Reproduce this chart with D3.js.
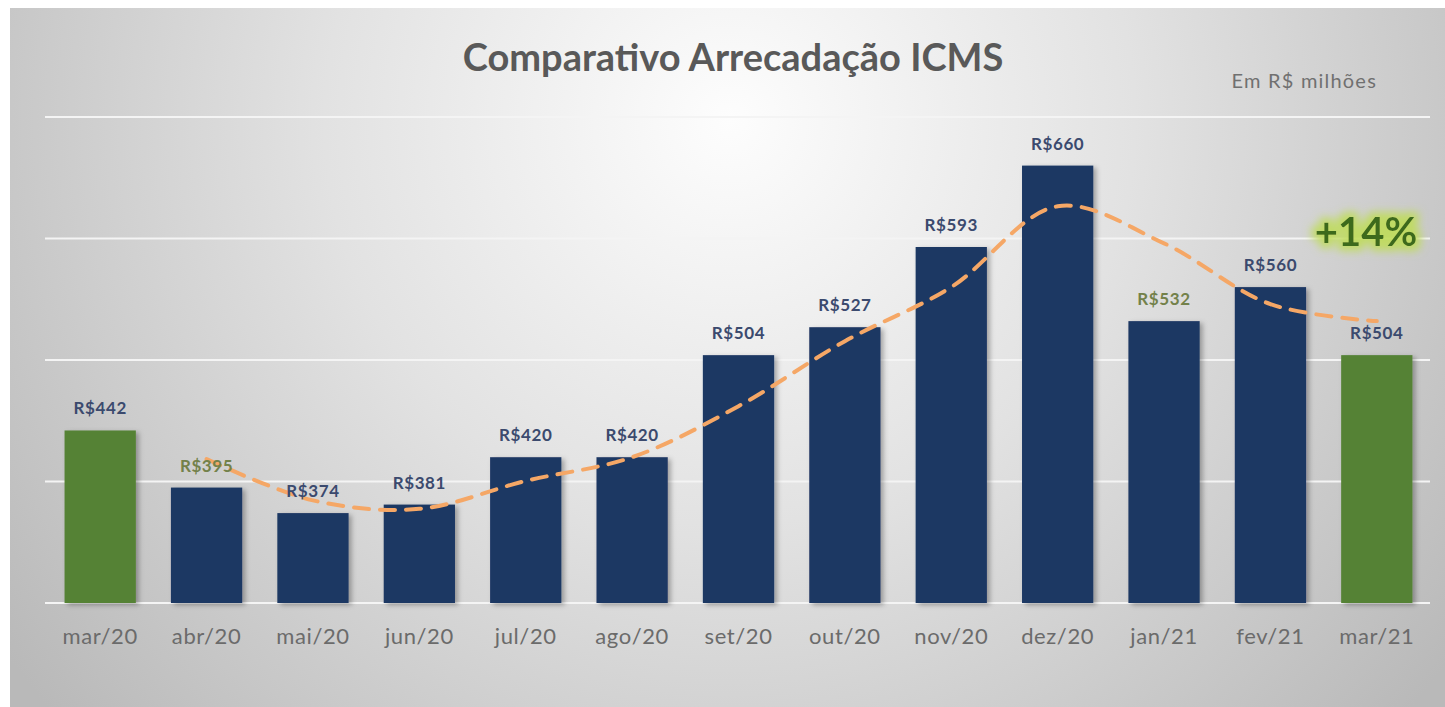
<!DOCTYPE html>
<html>
<head>
<meta charset="utf-8">
<script src="https://cdn.jsdelivr.net/npm/d3@7"></script>
<style>
  html, body { margin: 0; padding: 0; background: #ffffff; }
  svg { display: block; }
</style>
</head>
<body>
<div id="chart"></div>
<script>
const months = ["mar/20", "abr/20", "mai/20", "jun/20", "jul/20", "ago/20", "set/20",
  "out/20", "nov/20", "dez/20", "jan/21", "fev/21", "mar/21"]
const values = [442, 395, 374, 381, 420, 420, 504, 527, 593, 660, 532, 560, 504]
// dashed trend line (abr/20 .. mar/21)
const trendMonths = months.slice(1)
const trendValues = [418.5, 384.5, 377.5, 400.5, 420, 462, 515.5, 560, 626.5, 596, 546, 532]
const highlighted = ["mar/20", "mar/21"]
const greenLabels = ["abr/20", "jan/21"]
const yTicks = [300, 400, 500, 600, 700]

const width = 1445
const height = 707
const font = "Lato, 'Open Sans', sans-serif"

const svg = d3.select("#chart")
  .append("svg")
  .attr("width", width)
  .attr("height", height)

const defs = svg.append("defs")

const bg = defs.append("radialGradient")
  .attr("id", "bg")
  .attr("gradientUnits", "userSpaceOnUse")
  .attr("cx", 730).attr("cy", 120).attr("r", 900)
bg.append("stop").attr("offset", "0%").attr("stop-color", "#fdfdfd")
bg.append("stop").attr("offset", "45%").attr("stop-color", "#e2e2e2")
bg.append("stop").attr("offset", "100%").attr("stop-color", "#b9b9b9")

const shadow = defs.append("filter").attr("id", "shadow")
  .attr("x", "-20%").attr("y", "-20%").attr("width", "150%").attr("height", "150%")
shadow.append("feDropShadow")
  .attr("dx", 3).attr("dy", 2).attr("stdDeviation", 2.5)
  .attr("flood-color", "#000").attr("flood-opacity", 0.3)

const glow = defs.append("filter").attr("id", "glow")
  .attr("x", "-30%").attr("y", "-40%").attr("width", "160%").attr("height", "180%")
glow.append("feMorphology").attr("in", "SourceAlpha").attr("operator", "dilate").attr("radius", 5).attr("result", "d")
glow.append("feGaussianBlur").attr("in", "d").attr("stdDeviation", 4).attr("result", "b")
glow.append("feFlood").attr("flood-color", "#bfdc5a").attr("flood-opacity", 0.9)
glow.append("feComposite").attr("in2", "b").attr("operator", "in").attr("result", "g")
const merge = glow.append("feMerge")
merge.append("feMergeNode").attr("in", "g")
merge.append("feMergeNode").attr("in", "SourceGraphic")

svg.append("rect")
  .attr("x", 10).attr("y", 8)
  .attr("width", width - 10).attr("height", height - 8)
  .attr("fill", "url(#bg)")

const x = d3.scaleBand()
  .domain(months)
  .range([47, 1430])
  .paddingInner(0.33)
  .paddingOuter(0.165)

const y = d3.scaleLinear()
  .domain([300, 700])
  .range([603, 117])

// gridlines
svg.append("g")
  .selectAll("line")
  .data(yTicks)
  .join("line")
  .attr("x1", 45)
  .attr("x2", 1430)
  .attr("y1", d => y(d))
  .attr("y2", d => y(d))
  .attr("stroke", "#f4f4f4")
  .attr("stroke-width", 2)

// bars
svg.append("g")
  .selectAll("rect")
  .data(months)
  .join("rect")
  .attr("x", d => x(d))
  .attr("width", x.bandwidth())
  .attr("y", (d, i) => y(values[i]))
  .attr("height", (d, i) => y(300) - y(values[i]))
  .attr("fill", d => highlighted.includes(d) ? "#548235" : "#1f3864")
  .attr("filter", "url(#shadow)")

// trend line
const line = d3.line()
  .x(d => x(d[0]) + x.bandwidth() / 2)
  .y(d => y(d[1]))
  .curve(d3.curveCatmullRom.alpha(0.5))

svg.append("path")
  .datum(trendMonths.map((m, i) => [m, trendValues[i]]))
  .attr("d", line)
  .attr("fill", "none")
  .attr("stroke", "#f5a766")
  .attr("stroke-width", 4)
  .attr("stroke-dasharray", "15 11")
  .attr("stroke-linecap", "round")

// value labels
svg.append("g")
  .selectAll("text")
  .data(months)
  .join("text")
  .attr("x", d => x(d) + x.bandwidth() / 2)
  .attr("y", (d, i) => y(values[i]) - 16)
  .attr("text-anchor", "middle")
  .attr("font-family", font)
  .attr("font-weight", "700")
  .attr("font-size", "17px")
  .attr("letter-spacing", "0.6px")
  .attr("fill", d => greenLabels.includes(d) ? "#73814a" : "#3b4a6e")
  .text((d, i) => "R$" + values[i])

// x axis labels
const xAxis = d3.axisBottom(x).tickSize(0).tickPadding(0)
const gx = svg.append("g")
  .attr("transform", `translate(0,${y(300) + 41})`)
  .call(xAxis)
gx.select(".domain").remove()
gx.selectAll("text")
  .attr("dy", 0)
  .attr("font-family", font)
  .attr("font-size", "22px")
  .attr("letter-spacing", "0.6px")
  .attr("fill", "#6b6b6b")

// title
svg.append("text")
  .attr("x", 733)
  .attr("y", 71)
  .attr("text-anchor", "middle")
  .attr("font-family", font)
  .attr("font-weight", "700")
  .attr("font-size", "38px")
  .attr("fill", "#595959")
  .text("Comparativo Arrecadação ICMS")

svg.append("text")
  .attr("x", 1377)
  .attr("y", 88)
  .attr("text-anchor", "end")
  .attr("font-family", font)
  .attr("font-size", "20px")
  .attr("letter-spacing", "1.2px")
  .attr("fill", "#707070")
  .text("Em R$ milhões")

svg.append("text")
  .attr("x", 1366)
  .attr("y", 246)
  .attr("text-anchor", "middle")
  .attr("font-family", font)
  .attr("font-weight", "700")
  .attr("font-size", "40px")
  .attr("fill", "#3d6a1c")
  .attr("filter", "url(#glow)")
  .text("+14%")
</script>
</body>
</html>
